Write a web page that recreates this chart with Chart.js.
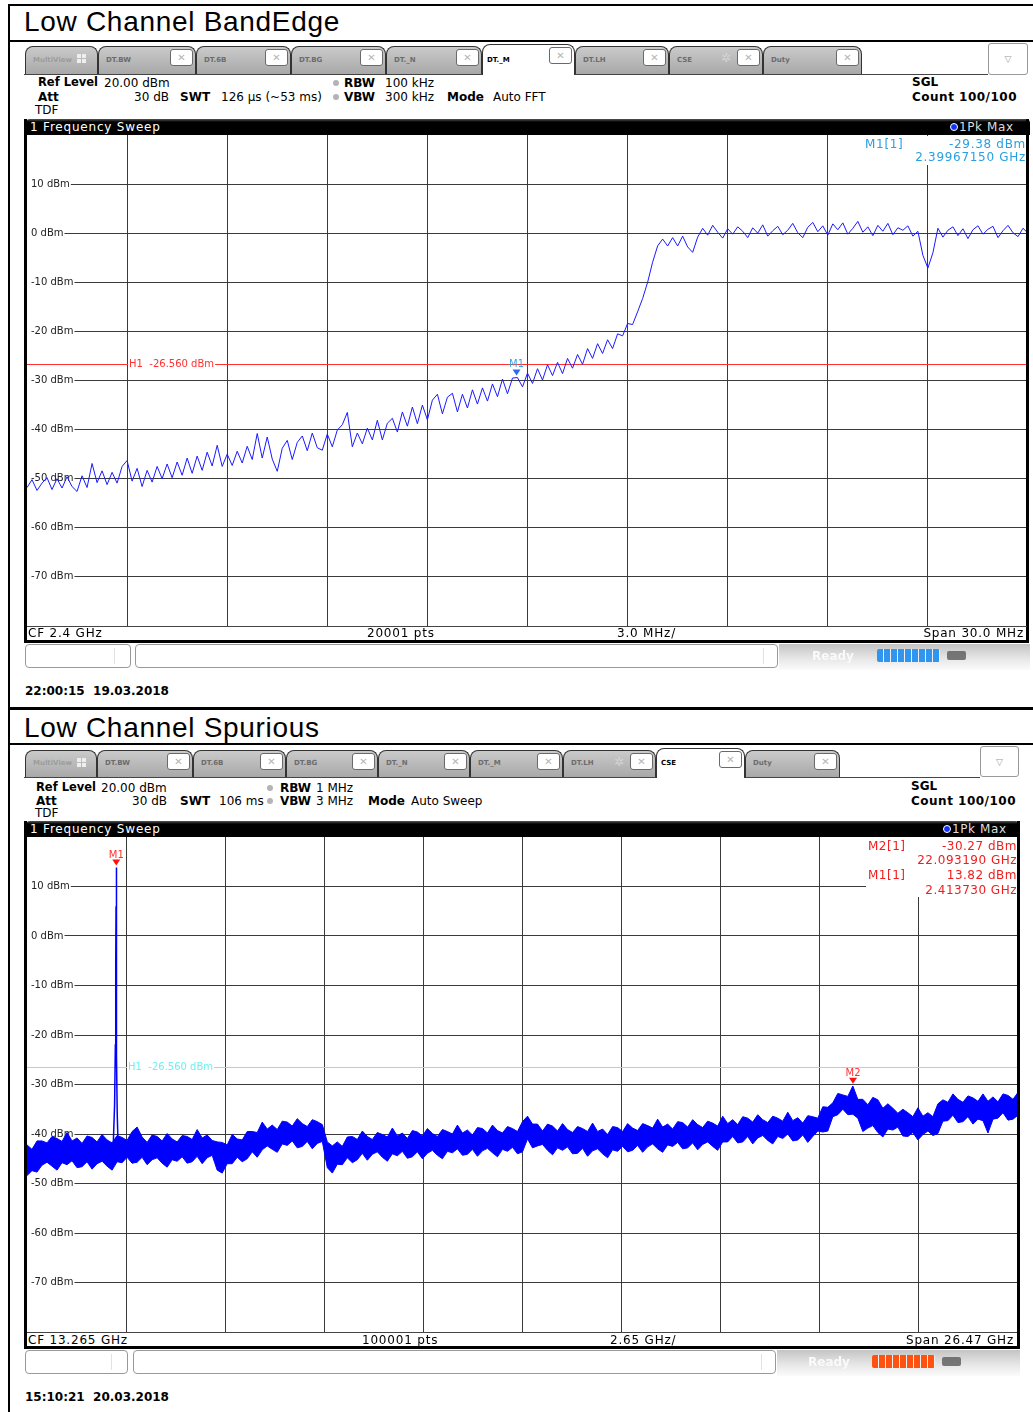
<!DOCTYPE html>
<html>
<head>
<meta charset="utf-8">
<script src="https://cdn.jsdelivr.net/npm/chart.js@4/dist/chart.umd.min.js"></script>
<style>
  body { margin: 0; width: 1033px; height: 1412px; position: relative; overflow: hidden; background: #fff; font-family: 'DejaVu Sans', Verdana, sans-serif; }
  .txt { position: absolute; white-space: pre; }
  .plot { position: absolute; }
</style>
</head>
<body>
<canvas id="bandedge" class="plot" width="1001" height="491" style="left:27px;top:135px"></canvas>
<canvas id="spurious" class="plot" width="991" height="495" style="left:27px;top:837px"></canvas>
<script>
/* Svepinställningar (start/stopp) och y-axelns etiketter */
const sweep1 = { start: 2385, stop: 2415 }; // MHz, CF 2.4 GHz, span 30 MHz
const sweep2 = { start: 0.03, stop: 26.5 }; // GHz, CF 13.265 GHz, span 26.47 GHz
const yTicks = [10, 0, -10, -20, -30, -40, -50, -60, -70];
const h1Level = -26.56;

/* Spår 1 (1Pk Max), avläst var 0.15 MHz */
const levels1 = [
  -51.8, -50.2, -52.4, -50.9, -49.8, -52.2, -50.0, -51.9, -49.6, -51.6,
  -52.6, -49.4, -51.8, -46.9, -50.8, -48.4, -51.2, -48.7, -50.9, -47.5,
  -46.3, -50.5, -47.9, -51.6, -48.3, -50.7, -47.5, -50.0, -47.0, -49.8,
  -46.6, -49.3, -45.8, -48.9, -45.4, -48.3, -44.6, -47.4, -43.2, -47.5,
  -45.0, -47.3, -44.4, -46.8, -43.4, -46.1, -40.8, -45.8, -41.5, -46.0,
  -48.5, -43.8, -42.2, -46.1, -42.6, -41.3, -44.3, -40.7, -43.7, -44.2,
  -40.9, -43.5, -40.1, -39.0, -36.5, -43.5, -40.7, -42.9, -39.7, -42.1,
  -38.1, -42.1, -38.7, -37.7, -40.5, -36.4, -39.3, -35.4, -38.8, -35.0,
  -38.0, -34.0, -32.8, -36.8, -33.4, -32.6, -36.4, -32.8, -35.6, -31.9,
  -34.8, -31.5, -34.2, -30.7, -33.3, -29.7, -32.7, -29.5, -29.4, -31.3,
  -28.5, -30.6, -27.6, -29.9, -26.8, -29.0, -26.3, -28.6, -25.5, -27.5,
  -24.7, -26.7, -23.5, -25.5, -22.5, -24.5, -21.7, -23.5, -20.5, -20.9,
  -18.4, -18.6, -16.0, -13.3, -10.0, -5.9, -2.6, -1.2, -2.6, -0.9,
  -2.6, -0.6, -2.8, -3.9, -0.8, 1.0, -0.4, 1.6, 0.2, -1.0,
  0.9, -0.2, 1.3, 0.4, -0.9, 1.1, 0.0, 1.7, -0.6, 0.5,
  1.4, -0.3, 0.6, 2.0, 0.1, -0.9, 1.2, 2.2, 0.3, 1.5,
  -0.4, 1.9, 0.7, 2.1, -0.2, 1.0, 2.4, 0.2, 1.3, -0.5,
  1.6, 0.4, 2.0, -0.3, 1.1, 0.6, 1.5, -0.6, 0.4, -4.5,
  -7.1, -4.0, 1.0, -0.8, 0.6, 1.3, -0.5, 0.9, -1.1, 0.7,
  1.5, -0.2, 0.8, 1.4, -0.9, 0.5, 1.6, 0.1, -0.7, 1.0, 0.0
];

/* Spår 2: brusbandets över- och underkant, avläst var 0.1337 GHz */
const bandTop2 = [
  -42.2, -43.1, -41.4, -41.4, -41.8, -40.5, -40.9, -41.5, -39.7, -41.4,
  -40.8, -41.9, -40.4, -40.7, -41.6, -40.1, -41.2, -41.8, -40.3, -40.7,
  -41.3, -39.5, -38.6, -40.6, -41.7, -40.2, -40.5, -41.4, -39.9, -41.0,
  -41.6, -40.3, -40.5, -41.1, -39.1, -40.8, -40.2, -41.3, -41.6, -41.7,
  -42.2, -40.1, -41.0, -41.2, -39.5, -39.5, -39.7, -37.6, -39.0, -38.2,
  -39.1, -37.4, -37.6, -38.4, -36.9, -37.9, -38.5, -37.1, -37.5, -38.1,
  -41.6, -42.4, -41.6, -42.5, -40.6, -40.5, -41.1, -39.4, -40.5, -41.1,
  -39.7, -40.1, -40.6, -38.8, -40.4, -39.8, -40.9, -39.3, -39.6, -40.4,
  -38.9, -39.9, -40.5, -39.1, -39.5, -40.0, -38.2, -39.8, -39.2, -40.2,
  -38.7, -38.9, -39.8, -38.2, -39.3, -39.8, -38.5, -38.9, -39.5, -37.5,
  -36.4, -38.0, -38.0, -39.4, -38.0, -38.4, -39.4, -37.9, -39.1, -39.7,
  -38.5, -38.9, -39.5, -37.8, -39.5, -39.0, -40.1, -38.5, -38.7, -39.5,
  -37.9, -38.8, -39.3, -37.9, -38.3, -38.8, -37.0, -38.6, -38.0, -39.0,
  -37.5, -37.7, -38.6, -37.1, -38.1, -38.7, -37.4, -37.8, -38.4, -36.4,
  -37.9, -37.1, -38.1, -36.5, -36.8, -37.6, -36.1, -37.1, -37.7, -36.4,
  -36.8, -37.4, -35.6, -37.3, -36.7, -37.8, -36.3, -36.5, -36.8, -34.5,
  -34.6, -33.7, -31.8, -32.1, -32.4, -30.3, -33.0, -33.0, -34.1, -32.6,
  -33.1, -34.8, -33.9, -34.8, -35.8, -35.0, -35.7, -36.5, -34.7, -36.4,
  -35.7, -36.5, -33.9, -33.1, -33.6, -31.9, -33.0, -33.6, -32.3, -32.7,
  -33.4, -31.9, -33.4, -32.5, -33.5, -31.9, -32.2, -33.0, -31.6
];
const bandBottom2 = [
  -48.4, -47.4, -47.7, -46.3, -45.7, -46.5, -47.3, -45.8, -46.2, -45.4,
  -46.8, -46.6, -45.6, -47.1, -46.0, -45.5, -46.5, -47.3, -45.6, -45.8,
  -44.7, -45.9, -45.7, -44.7, -46.2, -45.2, -44.8, -45.9, -46.7, -45.2,
  -45.5, -44.6, -45.9, -45.6, -44.5, -46.0, -44.8, -44.3, -47.3, -47.9,
  -46.0, -46.0, -44.7, -45.6, -45.0, -43.6, -44.7, -43.2, -42.4, -43.1,
  -43.7, -42.0, -42.3, -41.4, -42.8, -42.5, -41.5, -43.0, -41.9, -41.5,
  -46.8, -47.9, -46.1, -46.2, -44.8, -45.8, -45.2, -43.9, -45.3, -44.1,
  -43.6, -44.7, -45.5, -44.0, -44.4, -43.5, -44.9, -44.6, -43.6, -45.0,
  -43.9, -43.3, -44.3, -45.0, -43.5, -43.8, -43.0, -44.3, -44.1, -43.1,
  -44.5, -43.4, -42.9, -43.8, -44.6, -43.1, -43.5, -42.7, -44.0, -43.6,
  -41.0, -42.8, -42.4, -42.1, -43.3, -44.2, -42.8, -43.3, -42.6, -44.0,
  -43.9, -42.9, -44.5, -43.4, -43.0, -44.0, -44.8, -43.2, -43.5, -42.5,
  -43.6, -43.3, -42.3, -43.7, -42.6, -42.0, -43.0, -43.7, -42.2, -42.5,
  -41.7, -43.0, -42.8, -41.8, -43.2, -42.1, -41.6, -42.5, -43.3, -41.6,
  -41.6, -40.5, -41.8, -41.6, -40.5, -42.0, -40.8, -40.3, -41.3, -42.0,
  -40.5, -40.9, -40.0, -41.4, -41.2, -40.2, -41.7, -40.5, -39.4, -39.6,
  -39.4, -36.5, -36.1, -35.0, -36.1, -36.0, -36.8, -39.5, -38.8, -38.3,
  -39.7, -40.6, -39.0, -39.2, -38.6, -40.4, -40.5, -39.7, -41.2, -40.1,
  -39.4, -40.3, -39.9, -37.4, -37.3, -36.2, -37.7, -37.5, -36.5, -38.0,
  -37.0, -37.3, -39.8, -37.0, -36.8, -35.7, -37.2, -37.0, -36.2
];

/* Bärvågstoppen vid 2.41 GHz */
const carrierFreqs2 = [2.33, 2.37, 2.39, 2.40, 2.408, 2.41373, 2.418, 2.428, 2.44, 2.47];
const carrierLevels2 = [-43, -34, -22, -6, 6, 13.82, 5, -24, -36, -44];

/* Markörer */
const markers1 = { names: ['M1'], freqs: [2399.6715], levels: [-29.38] };
const markers2 = { names: ['M1', 'M2'], freqs: [2.41373, 22.09319], levels: [13.82, -30.27] };

const GRID = '#3a3a3a';

/* Hjälpfunktioner för ramen runt diagrammen */
function box(x, y, w, h, css) {
  const d = document.createElement('div');
  d.style.cssText = `position:absolute;left:${x}px;top:${y}px;width:${w}px;height:${h}px;box-sizing:border-box;` + (css || '');
  document.body.appendChild(d);
  return d;
}
function text(str, x, base, size, o = {}) {
  const d = document.createElement('div');
  d.className = 'txt';
  d.textContent = str;
  d.style.font = `${o.bold ? 'bold ' : ''}${size}px ${o.family || "'DejaVu Sans'"}`;
  d.style.lineHeight = size + 'px';
  d.style.top = base - 0.846 * size + 'px';
  d.style.color = o.color || '#000';
  if (o.spacing) d.style.letterSpacing = o.spacing + 'px';
  if (o.align === 'right') {
    d.style.left = x - 400 + 'px';
    d.style.width = '400px';
    d.style.textAlign = 'right';
  } else d.style.left = x + 'px';
  document.body.appendChild(d);
  return d;
}
function tabBar(top, bottom, list, active, gearTab, drop) {
  box(24, bottom, drop[0] - 24, 1, 'background:#444');
  list.forEach(([name, l, r]) => {
    const on = name === active;
    const t = on ? top - 2 : top;
    box(l, t, r - l, bottom - t + (on ? 1 : 0),
      `background:${on ? '#fff' : 'linear-gradient(#cacaca,#a8a8a8)'};border:1px solid #333;border-bottom:none;border-radius:8px 8px 0 0`);
    const multi = name === 'MultiView';
    text(name, l + (on ? 5 : 8), bottom - 11, 7, { bold: true, color: on ? '#000' : multi ? '#9c9c9c' : '#6c6c6c' });
    if (multi) {
      box(l + 52, top + 8, 4, 4, 'background:#eee;box-shadow:5px 0 #eee,0 5px #eee,5px 5px #eee');
    } else {
      const c = box(r - 26, t + 3, 23, 17, 'background:#fff;border:1px solid #6a6a6a;border-radius:3px;display:flex;align-items:center;justify-content:center;font:10px DejaVu Sans;color:#b5b5b5');
      c.textContent = '✕';
    }
    if (name === gearTab) text('✲', r - 42, top + 16, 12, { color: '#d4d4d4' });
  });
  const dd = box(drop[0], drop[1], drop[2], drop[3], 'background:#fff;border:1px solid #999;border-radius:3px;display:flex;align-items:center;justify-content:center;font:9px DejaVu Sans;color:#999');
  dd.textContent = '▽';
}
function dot(x, y) {
  box(x - 3, y - 3, 6, 6, 'background:#b4b4b4;border-radius:50%');
}
function header(x, y, w, label, pkX) {
  box(x, y, w, 16, 'background:linear-gradient(#555 0,#000 3px,#000);border-radius:4px 4px 0 0');
  text(label, x + 4, y + 12.5, 12, { color: '#fff', spacing: 0.8 });
  box(pkX, y + 4, 8, 8, 'background:#1133ff;border:1px solid #fff;border-radius:50%');
  text('1Pk Max', pkX + 9, y + 12.5, 12, { color: '#ddd', spacing: 0.6 });
}
function statusBar(y, b1, b2, grayEnd, readyX, barX, barColor) {
  box(b1[0], y, b1[1] - b1[0], 24, 'background:#fff;border:1px solid #999;border-radius:4px');
  box(b1[1] - 17, y + 4, 1, 16, 'background:#e2e2e2');
  box(b2[0], y, b2[1] - b2[0], 24, 'background:#fff;border:1px solid #999;border-radius:4px');
  box(b2[1] - 15, y + 4, 1, 16, 'background:#e2e2e2');
  box(b2[1] + 1, y, grayEnd - b2[1] - 1, 26, 'background:linear-gradient(#c4c4c4,#e6e6e6 55%,#fbfbfb)');
  text('Ready', readyX, y + 16, 12, { bold: true, color: '#fafafa' });
  box(barX, y + 5, 63, 13, `border-radius:2px;background:repeating-linear-gradient(90deg,${barColor} 0 6px,#f0f0f0 6px 7px)`);
  box(barX + 70, y + 7, 19, 9, 'background:#5a5a5a;border-radius:2px;opacity:0.8');
}

/* Sidans ram och rubriker */
const TITLE = { family: "'Liberation Sans', Arial, sans-serif", spacing: 0.7 };
box(8, 4, 1025, 2, 'background:#000');
box(8, 4, 2, 1408, 'background:#000');
text('Low Channel BandEdge', 24, 32, 28, TITLE);
box(8, 40, 1025, 2, 'background:#000');
box(8, 707, 1025, 3, 'background:#000');
text('Low Channel Spurious', 24, 737.5, 28, TITLE);
box(8, 743, 1025, 2, 'background:#000');

/* Panel 1 */
tabBar(46, 74, [
  ['MultiView', 25, 98], ['DT.BW', 98, 196], ['DT.6B', 196, 291], ['DT.BG', 291, 386], ['DT._N', 386, 482],
  ['DT.LH', 575, 669], ['CSE', 669, 763], ['Duty', 763, 862], ['DT._M', 482, 575]
], 'DT._M', 'CSE', [988, 43, 40, 32]);
text('Ref Level', 38, 87, 11.5, { bold: true }); text('20.00 dBm', 104, 87, 12);
dot(336, 83); text('RBW', 344, 87, 12, { bold: true }); text('100 kHz', 385, 87, 12);
text('SGL', 912, 86, 12, { bold: true });
text('Att', 38, 101, 12, { bold: true }); text('30 dB', 169, 101, 12, { align: 'right' });
text('SWT', 180, 101, 12, { bold: true }); text('126 µs (~53 ms)', 221, 101, 12);
dot(336, 97); text('VBW', 344, 101, 12, { bold: true }); text('300 kHz', 385, 101, 12);
text('Mode', 447, 101, 12, { bold: true }); text('Auto FFT', 493, 101, 12);
text('Count 100/100', 912, 101, 12, { bold: true, spacing: 0.5 });
text('TDF', 35, 114, 12);
header(26, 119, 1004, '1 Frequency Sweep', 950);
box(24, 119, 3, 524, 'background:#000');
box(1026, 119, 3, 524, 'background:#000');
box(27, 626, 1000, 1, 'background:#444');
text('CF 2.4 GHz', 28, 637.5, 12, { spacing: 0.8 });
text('20001 pts', 367, 637.5, 12, { spacing: 0.8 });
text('3.0 MHz/', 617, 637.5, 12, { spacing: 0.8 });
text('Span 30.0 MHz', 1024, 637.5, 12, { spacing: 0.8, align: 'right' });
box(24, 640, 1005, 3, 'background:#000');
statusBar(644, [25, 131], [135, 778], 1030, 812, 877, '#2f95ee');
text('22:00:15  19.03.2018', 25, 695, 12, { bold: true });
box(858, 136, 168, 29, 'background:#fff');
const C1 = '#2a9fe0';
text('M1[1]', 865, 148, 12, { color: C1, spacing: 0.7 });
text('-29.38 dBm', 1026, 148, 12, { color: C1, spacing: 0.7, align: 'right' });
text('2.39967150 GHz', 1026, 161.5, 12, { color: C1, spacing: 0.7, align: 'right' });

/* Panel 2 */
tabBar(750, 777, [
  ['MultiView', 25, 97], ['DT.BW', 97, 193], ['DT.6B', 193, 286], ['DT.BG', 286, 378], ['DT._N', 378, 470],
  ['DT._M', 470, 563], ['DT.LH', 563, 656], ['Duty', 745, 840], ['CSE', 656, 745]
], 'CSE', 'DT.LH', [980, 746, 39, 31]);
text('Ref Level', 36, 792, 11.5, { bold: true }); text('20.00 dBm', 101, 792, 12);
dot(270, 788); text('RBW', 280, 792, 12, { bold: true }); text('1 MHz', 316, 792, 12);
text('SGL', 911, 790, 12, { bold: true });
text('Att', 36, 805, 12, { bold: true }); text('30 dB', 167, 805, 12, { align: 'right' });
text('SWT', 180, 805, 12, { bold: true }); text('106 ms', 219, 805, 12);
dot(270, 801); text('VBW', 280, 805, 12, { bold: true }); text('3 MHz', 316, 805, 12);
text('Mode', 368, 805, 12, { bold: true }); text('Auto Sweep', 411, 805, 12);
text('Count 100/100', 911, 805, 12, { bold: true, spacing: 0.5 });
text('TDF', 35, 817, 12);
header(26, 821, 993, '1 Frequency Sweep', 943);
box(24, 821, 3, 528, 'background:#000');
box(1017, 821, 3, 528, 'background:#000');
box(27, 1332, 990, 1, 'background:#444');
text('CF 13.265 GHz', 28, 1344, 12, { spacing: 0.8 });
text('100001 pts', 362, 1344, 12, { spacing: 0.8 });
text('2.65 GHz/', 610, 1344, 12, { spacing: 0.8 });
text('Span 26.47 GHz', 1014, 1344, 12, { spacing: 0.8, align: 'right' });
box(24, 1346, 996, 3, 'background:#000');
statusBar(1350, [25, 128], [133, 776], 1020, 808, 872, '#ff5210');
text('15:10:21  20.03.2018', 25, 1401, 12, { bold: true });
box(866, 837, 151, 60, 'background:#fff');
const C2 = '#f21c1c';
text('M2[1]', 868, 850, 12, { color: C2, spacing: 0.5 });
text('-30.27 dBm', 1017, 850, 12, { color: C2, spacing: 0.5, align: 'right' });
text('22.093190 GHz', 1017, 864, 12, { color: C2, spacing: 0.5, align: 'right' });
text('M1[1]', 868, 879, 12, { color: C2, spacing: 0.5 });
text('13.82 dBm', 1017, 879, 12, { color: C2, spacing: 0.5, align: 'right' });
text('2.413730 GHz', 1017, 894, 12, { color: C2, spacing: 0.5, align: 'right' });

/* Plugin: H1-linjen och markörtrianglar, ritade via diagrammets skalor */
const overlay = {
  id: 'overlay',
  beforeDatasetsDraw(chart, args, opts) {
    const { ctx, chartArea: a, scales: { x, y } } = chart;
    const py = Math.round(y.getPixelForValue(opts.lineValue)) + 0.5;
    ctx.save();
    ctx.strokeStyle = opts.lineColor;
    ctx.lineWidth = 1;
    ctx.beginPath();
    ctx.moveTo(a.left, py);
    ctx.lineTo(a.right, py);
    ctx.stroke();
    ctx.font = '10px "DejaVu Sans"';
    const label = 'H1  -26.560 dBm';
    const w = ctx.measureText(label).width;
    const lx = x.getPixelForValue(x.ticks[0].value) + 2;
    ctx.fillStyle = '#fff';
    ctx.fillRect(lx - 1, py - 5, w + 2, 10);
    ctx.fillStyle = opts.lineColor;
    ctx.textBaseline = 'middle';
    ctx.fillText(label, lx, py);
    ctx.restore();
  },
  afterDatasetsDraw(chart, args, opts) {
    const { ctx, scales: { x, y } } = chart;
    const m = opts.markers;
    ctx.save();
    m.names.forEach((name, i) => {
      const px = x.getPixelForValue(m.freqs[i]);
      const py = y.getPixelForValue(m.levels[i]);
      ctx.fillStyle = opts.markerColor;
      ctx.beginPath();
      ctx.moveTo(px - 4, py - 8);
      ctx.lineTo(px + 4, py - 8);
      ctx.lineTo(px, py - 2);
      ctx.closePath();
      ctx.fill();
      ctx.font = '10px "DejaVu Sans"';
      ctx.textAlign = 'center';
      ctx.fillStyle = opts.markerLabelColor;
      ctx.fillText(name, px, py - 10);
    });
    ctx.restore();
  }
};

function makeChart(id, datasets, sweep, overlayOpts) {
  const span = sweep.stop - sweep.start;
  const gridX = Array.from({ length: 9 }, (_, k) => sweep.start + ((k + 1) * span) / 10);
  return new Chart(document.getElementById(id), {
    type: 'line',
    data: { datasets },
    plugins: [overlay],
    options: {
      responsive: false,
      animation: false,
      devicePixelRatio: 1,
      layout: { padding: 0 },
      elements: { point: { radius: 0 }, line: { tension: 0 } },
      plugins: { legend: { display: false }, tooltip: { enabled: false }, overlay: overlayOpts },
      scales: {
        x: {
          type: 'linear',
          min: sweep.start,
          max: sweep.stop,
          afterBuildTicks: (s) => { s.ticks = gridX.map((v) => ({ value: v })); },
          afterFit: (s) => { s.height = 0; s.paddingLeft = 0; s.paddingRight = 0; },
          ticks: { display: false },
          grid: { color: GRID, drawTicks: false },
          border: { display: false }
        },
        y: {
          min: -80,
          max: 20,
          afterBuildTicks: (s) => { s.ticks = yTicks.map((v) => ({ value: v })); },
          // etiketterna ligger inne i diagrammet, så axeln ska inte ta plats
          afterFit: (s) => { s.width = 0; s.paddingTop = 0; s.paddingBottom = 0; },
          ticks: {
            mirror: true,
            padding: 4,
            color: '#222',
            font: { family: 'DejaVu Sans', size: 10 },
            showLabelBackdrop: true,
            backdropColor: '#fff',
            backdropPadding: { left: 4, right: 1, top: 0, bottom: 0 },
            callback: (v) => v + ' dBm'
          },
          grid: { color: GRID, drawTicks: false },
          border: { display: false }
        }
      }
    }
  });
}

/* Diagram 1: bandkant */
const step1 = (sweep1.stop - sweep1.start) / (levels1.length - 1);
makeChart('bandedge', [
  {
    data: levels1.map((v, i) => ({ x: sweep1.start + i * step1, y: v })),
    borderColor: '#1a1aff',
    borderWidth: 1
  }
], sweep1, {
  lineValue: h1Level, lineColor: '#ff3030',
  markers: markers1, markerColor: '#2a6cf5', markerLabelColor: '#3aa6e6'
});

/* Diagram 2: spurious, brusbandet fylls mellan under- och överkant */
const step2 = (sweep2.stop - sweep2.start) / (bandTop2.length - 1);
makeChart('spurious', [
  {
    data: bandBottom2.map((v, i) => ({ x: sweep2.start + i * step2, y: v })),
    borderColor: '#0000ff',
    borderWidth: 1
  },
  {
    data: bandTop2.map((v, i) => ({ x: sweep2.start + i * step2, y: v })),
    borderColor: '#0000ff',
    borderWidth: 1,
    fill: '-1',
    backgroundColor: '#0000ff'
  },
  {
    data: carrierFreqs2.map((f, i) => ({ x: f, y: carrierLevels2[i] })),
    borderColor: '#0000ff',
    borderWidth: 1.5
  }
], sweep2, {
  lineValue: h1Level, lineColor: '#6ff0f0',
  markers: markers2, markerColor: '#ff1010', markerLabelColor: '#ff3030'
});
</script>
</body>
</html>
